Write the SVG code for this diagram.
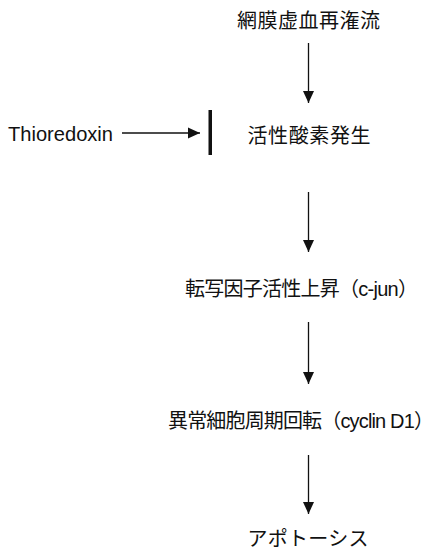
<svg xmlns="http://www.w3.org/2000/svg" width="439" height="551" viewBox="0 0 439 551">
<defs>
<style>
text{font-family:"Liberation Sans","Noto Sans CJK JP",sans-serif;font-size:20px;fill:#111;}
.c{text-anchor:middle;}
.ln{stroke:#111;stroke-width:1.3;fill:none;}
</style>
<marker id="ahv" viewBox="0 0 12 12" refX="12" refY="6" markerWidth="12" markerHeight="12" markerUnits="userSpaceOnUse" orient="auto">
<path d="M0,0.5 L12,6 L0,11.5 Z" fill="#111"/>
</marker>
</defs>
<g id="n1"><text class="c" x="308.5" y="28" textLength="143" lengthAdjust="spacing">網膜虚血再潅流</text></g>
<g id="n2"><text class="c" x="309" y="143" textLength="123" lengthAdjust="spacing">活性酸素発生</text></g>
<g id="n3"><text class="c" x="301.5" y="296" textLength="233" lengthAdjust="spacing">転写因子活性上昇（c-jun）</text></g>
<g id="n4"><text class="c" x="301" y="428" textLength="266" lengthAdjust="spacing">異常細胞周期回転（cyclin D1）</text></g>
<g id="n5"><text class="c" x="308" y="546" font-size="19" textLength="121" lengthAdjust="spacing">アポトーシス</text></g>
<g id="thio"><text x="8" y="141" textLength="105" lengthAdjust="spacingAndGlyphs">Thioredoxin</text></g>
<g id="block"><rect x="208.5" y="110" width="3.5" height="45" fill="#111"/></g>
<g id="connectors">
<line class="ln" x1="308.5" y1="43" x2="308.5" y2="103" marker-end="url(#ahv)"/>
<line class="ln" x1="308.5" y1="192" x2="308.5" y2="252" marker-end="url(#ahv)"/>
<line class="ln" x1="308.5" y1="322" x2="308.5" y2="384" marker-end="url(#ahv)"/>
<line class="ln" x1="308.5" y1="455" x2="308.5" y2="514" marker-end="url(#ahv)"/>
<line class="ln" x1="122" y1="133" x2="200" y2="133" marker-end="url(#ahv)"/>
</g>
</svg>
